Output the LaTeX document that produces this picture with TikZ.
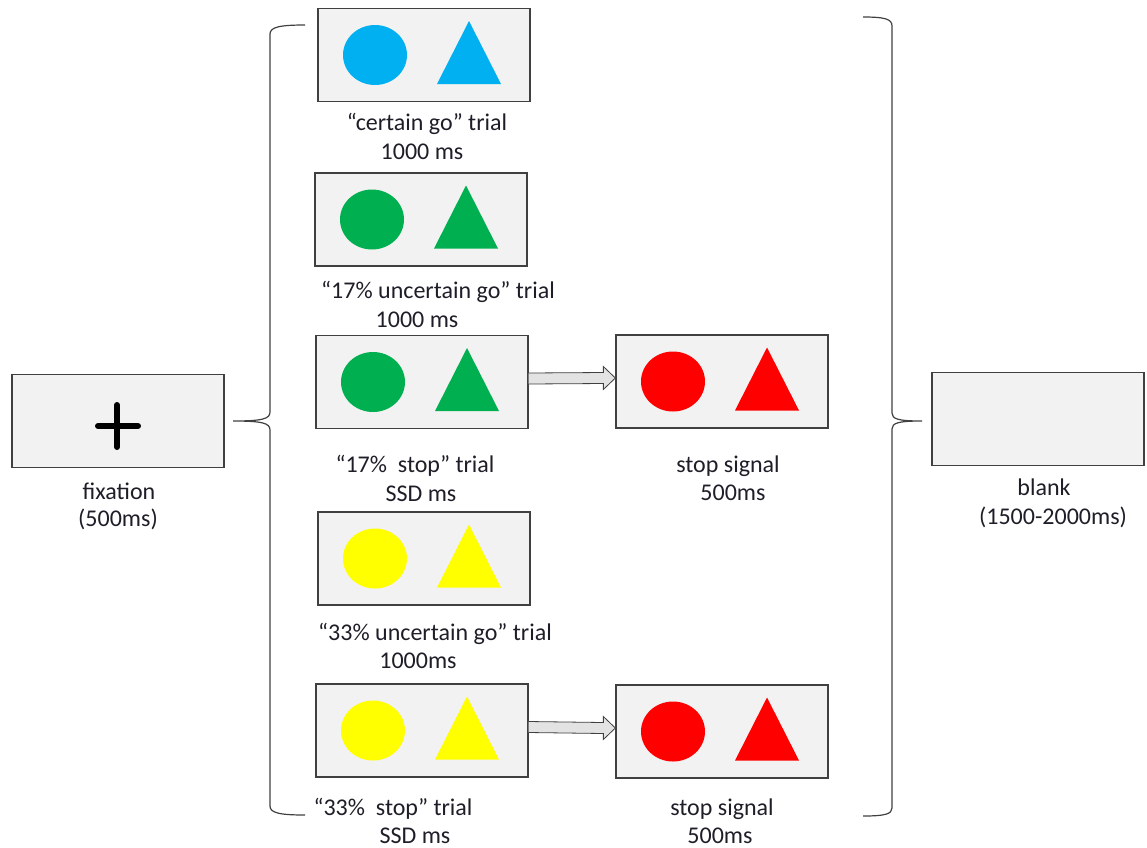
\documentclass[tikz,border=0pt]{standalone}
\usepackage{fontspec}
\setmainfont{Carlito}
\usetikzlibrary{calc}
\definecolor{boxgray}{HTML}{F2F2F2}
\definecolor{edgegray}{HTML}{404040}
\definecolor{gocyan}{HTML}{00B0F0}
\definecolor{gogreen}{HTML}{00B050}
\definecolor{goyellow}{HTML}{FFFF00}
\definecolor{stopred}{HTML}{FF0000}
\definecolor{arrowgray}{HTML}{E3E3E3}
\definecolor{labeltext}{HTML}{1E1E28}

\begin{document}
\begin{tikzpicture}[x=1pt,y=-1pt,
    % grey stimulus screens
    stimbox/.style={
        draw=edgegray,
        line width=1.3pt,
        fill=boxgray,
        minimum width=212pt,
        minimum height=93pt,
        inner sep=0pt
    },
    lbl/.style={text=labeltext, anchor=base, inner sep=0pt, font=\fontsize{24}{29}\selectfont},
    fatarrow/.style={draw=edgegray, line width=0.8pt, fill=arrowgray, line join=miter},
    brace/.style={draw=edgegray, line width=1.2pt}
]
    \useasboundingbox (0,0) rectangle (1147,847);

    % --- fixation and blank screens ---
    \node[stimbox] (fix) at (118,421) {};
    \draw[line width=6pt, line cap=round] ($(fix)+(-20,5)$) -- ($(fix)+(20,5)$)
        ($(fix)+(-1,-16)$) -- ($(fix)+(-1,26)$);
    \node[stimbox] (blank) at (1038,419) {};

    % --- stimulus screens: circle left, triangle right ---
    \foreach \name/\cx/\cy/\col in {t1/424/55/gocyan, t2/421/219.5/gogreen, t3/422/382/gogreen,
        t4/424/558.5/goyellow, t5/422/730.5/goyellow, s1/722/381.5/stopred, s2/722/731.5/stopred} {
        \node[stimbox] (\name) at (\cx,\cy) {};
        \fill[\col] ($(\name)+(-49,0)$) ellipse [x radius=32pt, y radius=30pt];
        \fill[\col] ($(\name)+(45,-34)$) -- ($(\name)+(77,29)$) -- ($(\name)+(13,29)$) -- cycle;
    }

    % --- labels, one node per line (base line at y) ---
    \foreach \nm/\lx/\ly/\txt in {
        fix-a/119/499/{fixation}, fix-b/118/526/{(500ms)},
        t1-a/427/130/{“certain go” trial}, t1-b/422/159/{1000 ms},
        t2-a/438/298/{“17\% uncertain go” trial}, t2-b/417/327/{1000 ms},
        t3-a/415/472/{“17\%~~stop” trial}, t3-b/421/501/{SSD ms},
        s1-a/728/472/{stop signal}, s1-b/733/500/{500ms},
        t4-a/435/640/{“33\% uncertain go” trial}, t4-b/418/668/{1000ms},
        t5-a/393/815/{“33\%~~stop” trial}, t5-b/415/843/{SSD ms},
        s2-a/722/815/{stop signal}, s2-b/720/843/{500ms},
        blank-a/1044/495/{blank}, blank-b/1053/524/{(1500-2000ms)}} {
        \node[lbl] (\nm) at (\lx,\ly) {\txt};
    }

    % --- stop-signal arrows ---
    \foreach \a/\b in {t3/s1, t5/s2} {
        \coordinate (\b-tip) at ($(\b.west)+(0,-3.5)$);
        \draw[fatarrow] ($(\a.east)+(0,-9)$) -- ($(\b-tip)+(-12,-5.5)$) -- ($(\b-tip)+(-12,-11.5)$)
            -- (\b-tip) -- ($(\b-tip)+(-12,11.5)$) -- ($(\b-tip)+(-12,5.5)$) -- ($(\a.east)+(0,2)$);
    }

    % --- braces ---
    \coordinate (ltip) at (233,421);
    \draw[brace] (305,25) .. controls (280,25) and (270,27) .. (270,34) -- (270,412)
        .. controls (270,419) and (262,421) .. (ltip) .. controls (262,421) and (270,423) .. (270,430)
        -- (270,806) .. controls (270,813) and (280,815) .. (305,815);
    \coordinate (rtip) at (922,421);
    \draw[brace] (863,17) .. controls (885,17) and (892,19) .. (892,26) -- (892,413)
        .. controls (892,419) and (898,421) .. (rtip) .. controls (898,421) and (892,423) .. (892,429)
        -- (892,808) .. controls (892,814) and (885,816) .. (863,816);
\end{tikzpicture}
\end{document}
